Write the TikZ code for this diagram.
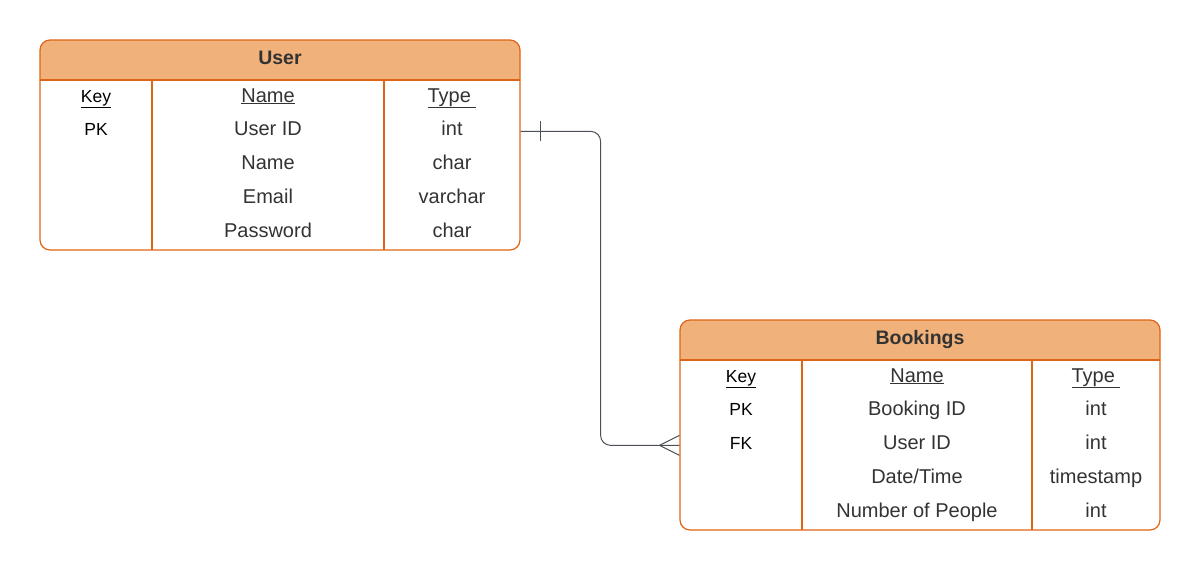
\documentclass[tikz,border=0pt]{standalone}
\usepackage{fontspec}
\setmainfont{Liberation Sans}
\definecolor{hdr}{RGB}{240,178,122}
\definecolor{bord}{RGB}{222,100,22}
\definecolor{txt}{RGB}{51,51,51}
\definecolor{conn}{RGB}{75,80,90}
\begin{document}
\begin{tikzpicture}[x=1pt,y=-1pt,
  tbl/.style={draw=bord, line width=1.2pt, rounded corners=10pt, inner sep=0pt, minimum width=480pt, minimum height=210pt},
  divider/.style={draw=bord, line width=1.2pt},
  cell/.style={font=\fontsize{20}{22}\selectfont, text=txt, inner sep=0pt, anchor=base},
  keycell/.style={font=\fontsize{17.5}{20}\selectfont, text=black, inner sep=0pt, anchor=base},
  title/.style={font=\fontsize{19.5}{22}\selectfont\bfseries, text=txt, inner sep=0pt, anchor=base},
  link/.style={draw=conn, line width=1pt}
]
\useasboundingbox (0,0) rectangle (1200,570);

% ---------- User table ----------
\fill[hdr] (40,80) {[rounded corners=10pt] -- (40,40) -- (520,40)} -- (520,80) -- cycle;
\node[tbl] (user) at (280,145) {};
\draw[divider] (40,80) -- (520,80);
\draw[divider] (152,80) -- (152,250);
\draw[divider] (384,80) -- (384,250);
\node[title] (usert) at (280,64) {User};
\node[keycell] (uk0) at (96,102) {\underline{Key}};
\node[cell] (un0) at (268,102) {\underline{Name}};
\node[cell] (uy0) at (452,102) {\underline{Type~}};
\node[keycell] (uk1) at (96,135) {PK};
\node[cell] (uid) at (268,135) {User ID};
\node[cell] (uy1) at (452,135) {int};
\node[cell] (un2) at (268,169) {Name};
\node[cell] (uy2) at (452,169) {char};
\node[cell] (un3) at (268,203) {Email};
\node[cell] (uy3) at (452,203) {varchar};
\node[cell] (un4) at (268,237) {Password};
\node[cell] (uy4) at (452,237) {char};

% ---------- Bookings table ----------
\fill[hdr] (680,360) {[rounded corners=10pt] -- (680,320) -- (1160,320)} -- (1160,360) -- cycle;
\node[tbl] (bk) at (920,425) {};
\draw[divider] (680,360) -- (1160,360);
\draw[divider] (802,360) -- (802,530);
\draw[divider] (1032,360) -- (1032,530);
\node[title] (bkt) at (920,344) {Bookings};
\node[keycell] (bk0) at (741,382) {\underline{Key}};
\node[cell] (bn0) at (917,382) {\underline{Name}};
\node[cell] (by0) at (1096,382) {\underline{Type~}};
\node[keycell] (bk1) at (741,415) {PK};
\node[cell] (bn1) at (917,415) {Booking ID};
\node[cell] (by1) at (1096,415) {int};
\node[keycell] (bk2) at (741,449) {FK};
\node[cell] (fk) at (917,449) {User ID};
\node[cell] (by2) at (1096,449) {int};
\node[cell] (bn3) at (917,483) {Date/Time};
\node[cell] (by3) at (1096,483) {timestamp};
\node[cell] (bn4) at (917,517) {Number of People};
\node[cell] (by4) at (1096,517) {int};

% ---------- Relationship ----------
\coordinate (a) at ([yshift=1pt]user.east |- uid.mid);
\coordinate (b) at ([yshift=1pt]bk.west |- fk.mid);
\draw[link, rounded corners=10pt] (a) -- ++(80,0) |- (b);
% one mark
\draw[link] ([xshift=20pt,yshift=-10pt]a) -- ([xshift=20pt,yshift=10pt]a);
% crow's foot (many)
\draw[link] ([yshift=-10pt]b) -- ([xshift=-20pt]b) -- ([yshift=10pt]b);
\end{tikzpicture}
\end{document}
